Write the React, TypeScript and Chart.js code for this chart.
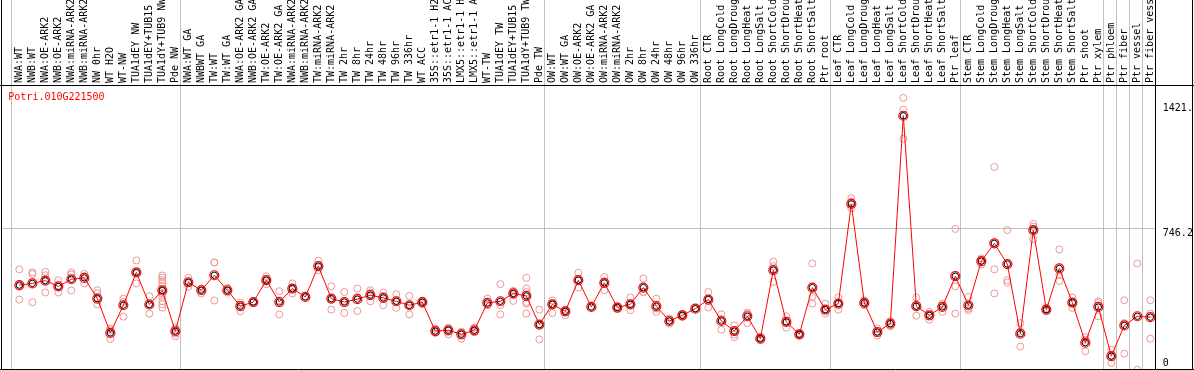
import React, { useEffect, useRef } from 'react';
import { Chart, registerables } from 'chart.js';

Chart.register(...registerables);

const geneId = 'Potri.010G221500';

const categories = [
  'NWA:WT', 'NWB:WT', 'NWA:OE-ARK2', 'NWB:OE-ARK2', 'NWA:miRNA-ARK2', 'NWB:miRNA-ARK2', 'NW 0hr', 'WT H2O', 'WT-NW',
  'TUA1dEY NW', 'TUA1dEY+TUB15 NW', 'TUA1dY+TUB9 NW', 'Pde NW',
  'NWA:WT GA', 'NWBWT GA', 'TW:WT', 'TW:WT GA', 'NWA:OE-ARK2 GA', 'NWB:OE-ARK2 GA', 'TW:OE-ARK2', 'TW:OE-ARK2 GA',
  'NWA:miRNA-ARK2 GA', 'NWB:miRNA-ARK2 GA', 'TW:miRNA-ARK2', 'TW:miRNA-ARK2 GA',
  'TW 2hr', 'TW 8hr', 'TW 24hr', 'TW 48hr', 'TW 96hr', 'TW 336hr', 'WT ACC',
  '35S::etr1-1 H2O', '35S::etr1-1 ACC', 'LMX5::etr1-1 H2O', 'LMX5::etr1-1 ACC', 'WT-TW',
  'TUA1dEY TW', 'TUA1dEY+TUB15 TW', 'TUA1dY+TUB9 TW', 'Pde TW',
  'OW:WT', 'OW:WT GA', 'OW:OE-ARK2', 'OW:OE-ARK2 GA', 'OW:miRNA-ARK2', 'OW:miRNA-ARK2 GA',
  'OW 2hr', 'OW 8hr', 'OW 24hr', 'OW 48hr', 'OW 96hr', 'OW 336hr',
  'Root CTR', 'Root LongCold', 'Root LongDrought', 'Root LongHeat', 'Root LongSalt', 'Root ShortCold',
  'Root ShortDrought', 'Root ShortHeat', 'Root ShortSalt', 'Ptr root',
  'Leaf CTR', 'Leaf LongCold', 'Leaf LongDrought', 'Leaf LongHeat', 'Leaf LongSalt', 'Leaf ShortCold',
  'Leaf ShortDrought', 'Leaf ShortHeat', 'Leaf ShortSalt', 'Ptr leaf',
  'Stem CTR', 'Stem LongCold', 'Stem LongDrought', 'Stem LongHeat', 'Stem LongSalt', 'Stem ShortCold',
  'Stem ShortDrought', 'Stem ShortHeat', 'Stem ShortSalt', 'Ptr shoot', 'Ptr xylem',
  'Ptr phloem', 'Ptr fiber', 'Ptr vessel', 'Ptr fiber vessel',
];

const meanValues = [
  447, 456, 471, 440, 478, 485, 376, 195, 341, 514, 345, 419, 204,
  462, 420, 499, 420, 336, 358, 473, 358, 429, 385, 547, 376, 358, 373, 394, 380, 362, 341, 357,
  205, 209, 188, 209, 353, 362, 403, 390, 239,
  346, 309, 473, 332, 459, 329, 346, 434, 336, 258, 288, 323,
  371, 258, 205, 283, 165, 526, 253, 188, 434, 318,
  350, 875, 353, 200, 244, 1339, 336, 288, 332, 494,
  341, 573, 667, 558, 191, 737, 318, 535, 355, 144, 332,
  73, 235, 283, 278,
];

const replicateValues = [
  [530, 439, 371], [514, 505, 357], [517, 499, 408], [473, 438, 408], [514, 503, 419], [506, 494, 456],
  [420, 403, 345], [218, 209, 163], [376, 358, 281], [577, 510, 456], [388, 345, 297],
  [498, 487, 473, 459, 443, 420, 403, 385, 362, 346, 329], [223, 213, 191, 177],
  [485, 462, 438], [429, 425, 403], [566, 566, 366], [432, 420, 408], [355, 343, 309], [362, 358, 355],
  [494, 473, 452], [415, 367, 293], [456, 429, 403], [385], [575, 540, 526], [441, 370, 318],
  [411, 364, 300], [429, 385, 311], [420, 408, 362], [408, 390, 341], [399, 362, 327], [390, 341, 293],
  [366, 357, 347], [218, 203, 195], [223, 215, 188], [202, 196, 165], [223, 204, 199], [376, 342, 341],
  [452, 341, 293], [417, 403, 394, 364], [485, 429, 411, 358, 350, 297], [318, 238, 161],
  [367, 346, 300], [318, 309, 288], [512, 473, 434], [332], [490, 466, 420], [336, 329, 321],
  [382, 342, 315], [482, 411, 410], [376, 325, 306], [271, 258, 244], [296, 288, 280], [323],
  [411, 373, 329], [293, 268, 212], [235, 186, 173], [302, 298, 247], [173, 165, 157], [570, 547, 464],
  [283, 252, 223], [194, 188, 181], [561, 385, 350], [350, 318, 297],
  [382, 350, 318], [905, 887, 852], [367, 353, 341], [218, 200, 182], [258, 244, 230],
  [1433, 1371, 1217], [382, 336, 286], [306, 292, 265], [350, 340, 306], [743, 441, 297],
  [385, 324, 315], [588, 576, 556], [1069, 530, 403], [737, 473, 461], [247, 202, 124],
  [769, 755, 688], [327, 318, 310], [635, 500, 469], [382, 357, 327], [173, 159, 99], [362, 353, 283],
  [107, 74, 38], [367, 247, 86], [561, 1], [367, 297, 165],
];

const groupStarts = [0, 13, 41, 53, 63, 73, 84, 85, 86, 87];
const yTickValues = [0, 746.2, 1421.3];
const yTickLabels = ['0', '746.2', '1421.'];

const MONO = '"DejaVu Sans Mono", "Liberation Mono", monospace';
const X_MIN = -1.333;
const X_MAX = 87.359;
const Y_MAX = 1495.6;
const SEP_SHIFT = 8 / 13;
const yLabelShift = [-4.3, 7.7, 10.6];

const framePlugin = {
  id: 'frame',
  afterDraw(chart: any) {
    const { ctx, chartArea, scales } = chart;
    const W = chart.width;
    const H = chart.height;
    ctx.save();
    ctx.strokeStyle = '#000';
    ctx.lineWidth = 1;
    ctx.beginPath();
    ctx.moveTo(chartArea.left - 0.5, 0); ctx.lineTo(chartArea.left - 0.5, H);
    ctx.moveTo(chartArea.right + 0.5, 0); ctx.lineTo(chartArea.right + 0.5, H);
    ctx.moveTo(W - 1.5, 0); ctx.lineTo(W - 1.5, H);
    ctx.moveTo(0, chartArea.top - 0.5); ctx.lineTo(W, chartArea.top - 0.5);
    ctx.moveTo(0, chartArea.bottom - 0.5); ctx.lineTo(W, chartArea.bottom - 0.5);
    ctx.stroke();

    ctx.font = '10px ' + MONO;
    ctx.textAlign = 'left';
    ctx.textBaseline = 'alphabetic';
    ctx.fillStyle = '#ff0000';
    ctx.fillText(geneId, chartArea.left + 6.3, chartArea.top + 14.3);

    ctx.fillStyle = '#000';
    yTickValues.forEach((v, k) => {
      const p = scales.y.getPixelForValue(v);
      ctx.fillText(yTickLabels[k], chartArea.right + 7.8, p + yLabelShift[k]);
    });
    ctx.restore();
  },
};

export default function App() {
  const canvasRef = useRef<HTMLCanvasElement | null>(null);

  useEffect(() => {
    if (!canvasRef.current) return;
    const meanPoints = meanValues.map((v, i) => ({ x: i, y: v }));
    const repPoints = replicateValues.flatMap((arr, i) => arr.map((v) => ({ x: i, y: v })));

    const chart = new Chart(canvasRef.current, {
      type: 'scatter',
      data: {
        datasets: [
          {
            label: 'replicates',
            data: repPoints,
            showLine: false,
            pointRadius: 3.5,
            pointBorderWidth: 1,
            pointBorderColor: 'rgb(236,150,150)',
            pointBackgroundColor: 'rgba(0,0,0,0)',
            order: 3,
            clip: false,
          } as any,
          {
            label: 'mean',
            data: meanPoints,
            showLine: true,
            borderColor: '#ff0000',
            borderWidth: 1,
            pointRadius: 4.5,
            pointBorderWidth: 1.2,
            pointBorderColor: '#ff0000',
            pointBackgroundColor: 'rgba(0,0,0,0)',
            order: 2,
            tension: 0,
          } as any,
          {
            label: 'mean core',
            data: meanPoints,
            showLine: false,
            pointRadius: 3.2,
            pointBorderWidth: 1,
            pointBorderColor: '#000',
            pointBackgroundColor: 'rgba(0,0,0,0)',
            order: 1,
          } as any,
        ],
      },
      options: {
        animation: false,
        responsive: false,
        maintainAspectRatio: false,
        layout: { autoPadding: false, padding: { left: 2, right: 0, top: 0, bottom: 0 } },
        plugins: { legend: { display: false }, tooltip: { enabled: false }, title: { display: false } },
        events: [],
        scales: {
          x: {
            type: 'linear',
            position: 'top',
            min: X_MIN,
            max: X_MAX,
            afterBuildTicks: (s: any) => {
              s.ticks = categories.map((_, i) => ({ value: i - SEP_SHIFT }));
            },
            afterFit: (s: any) => {
              s.height = 86;
              s.paddingLeft = 0;
              s.paddingRight = 0;
            },
            ticks: {
              autoSkip: false,
              minRotation: 90,
              maxRotation: 90,
              labelOffset: 20,
              padding: -83,
              color: '#000',
              font: { family: MONO, size: 10 },
              callback: (_v: any, i: number) => categories[i],
            },
            grid: {
              color: (c: any) => (groupStarts.includes(c.index) ? '#c0c0c0' : 'rgba(0,0,0,0)'),
              lineWidth: 1,
              drawTicks: true,
              tickLength: 86,
              drawOnChartArea: true,
            },
            border: { display: false },
          } as any,
          y: {
            type: 'linear',
            position: 'right',
            min: 0,
            max: Y_MAX,
            afterBuildTicks: (s: any) => {
              s.ticks = [{ value: yTickValues[1] }];
            },
            afterFit: (s: any) => {
              s.width = 39;
              s.paddingTop = 0;
              s.paddingBottom = 0;
            },
            ticks: { display: false },
            grid: { color: '#c0c0c0', lineWidth: 1, drawTicks: false },
            border: { display: false },
          } as any,
        },
      },
      plugins: [framePlugin],
    });
    return () => chart.destroy();
  }, []);

  return (
    <div style={{ position: 'absolute', left: 0, top: 0, width: 1194, height: 370, background: '#fff' }}>
      <canvas ref={canvasRef} width={1194} height={370} style={{ display: 'block' }} />
    </div>
  );
}
